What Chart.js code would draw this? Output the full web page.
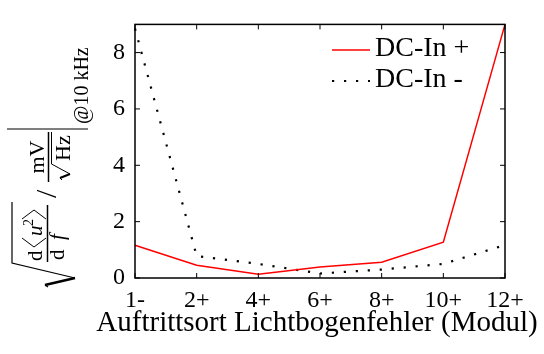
<!DOCTYPE html>
<html>
<head>
<meta charset="utf-8">
<script src="https://cdn.jsdelivr.net/npm/chart.js@4.4.0/dist/chart.umd.min.js"></script>
<style>
html, body { margin: 0; padding: 0; background: #fff; }
</style>
</head>
<body>
<canvas id="chart" width="544" height="354"></canvas>
<script>
// Werte
const categories = ['1-', '2+', '4+', '6+', '8+', '10+', '12+'];
const dcInPlus = [1.16, 0.45, 0.13, 0.39, 0.56, 1.27, 9.0];
const dcInMinus = [8.85, 0.78, 0.5, 0.16, 0.3, 0.5, 1.17];
const yTicks = [0, 2, 4, 6, 8];
const xTitle = 'Auftrittsort Lichtbogenfehler (Modul)';

const SERIF = '"Liberation Serif", "DejaVu Serif", serif';

// Rahmen + nach innen zeigende Ticks auf allen vier Seiten
const frameTicks = {
    id: 'frameTicks',
    afterDatasetsDraw(chart) {
        const { ctx, chartArea: a, scales } = chart;
        const len = 5;
        ctx.save();
        ctx.strokeStyle = '#000';
        ctx.lineWidth = 1;
        ctx.beginPath();
        scales.x.ticks.forEach((t, i) => {
            const px = scales.x.getPixelForTick(i);
            ctx.moveTo(px, a.bottom); ctx.lineTo(px, a.bottom - len);
            ctx.moveTo(px, a.top); ctx.lineTo(px, a.top + len);
        });
        yTicks.forEach(v => {
            const py = scales.y.getPixelForValue(v);
            ctx.moveTo(a.left, py); ctx.lineTo(a.left + len, py);
            ctx.moveTo(a.right, py); ctx.lineTo(a.right - len, py);
        });
        ctx.stroke();
        ctx.lineWidth = 1.5;
        ctx.strokeRect(a.left, a.top, a.right - a.left, a.bottom - a.top);
        ctx.restore();
    }
};

// Legende oben rechts im Plotbereich
const insideLegend = {
    id: 'insideLegend',
    afterDraw(chart) {
        const { ctx } = chart;
        const x0 = 332, x1 = 370, rows = [50, 81];
        ctx.save();
        chart.data.datasets.forEach((ds, i) => {
            const y = rows[i];
            ctx.strokeStyle = ds.borderColor;
            ctx.lineWidth = ds.borderWidth;
            ctx.setLineDash(ds.borderDash || []);
            ctx.beginPath();
            ctx.moveTo(x0, y); ctx.lineTo(x1, y);
            ctx.stroke();
            ctx.setLineDash([]);
            ctx.fillStyle = '#000';
            ctx.font = '28px ' + SERIF;
            ctx.textBaseline = 'alphabetic';
            ctx.textAlign = 'left';
            ctx.fillText(ds.label, 375, y + 6);
        });
        ctx.restore();
    }
};

// x-Achsentitel (selbst gezeichnet, damit er nicht gestaucht wird)
const xTitlePlugin = {
    id: 'xTitlePlugin',
    afterDraw(chart) {
        const { ctx } = chart;
        ctx.save();
        ctx.fillStyle = '#000';
        ctx.font = '29px ' + SERIF;
        ctx.textAlign = 'center';
        ctx.textBaseline = 'alphabetic';
        ctx.fillText(xTitle, 317, 331);
        ctx.restore();
    }
};

// y-Achsenbeschriftung als Formel, um 90° gedreht
const yFormula = {
    id: 'yFormula',
    afterDraw(chart) {
        const { ctx } = chart;
        ctx.save();
        ctx.translate(0, 290);
        ctx.rotate(-Math.PI / 2);
        ctx.fillStyle = '#000';
        ctx.strokeStyle = '#000';
        ctx.textBaseline = 'alphabetic';
        ctx.textAlign = 'left';
        const line = (pts, w) => {
            ctx.lineWidth = w;
            ctx.beginPath();
            ctx.moveTo(pts[0][0], pts[0][1]);
            pts.slice(1).forEach(p => ctx.lineTo(p[0], p[1]));
            ctx.stroke();
        };

        // große Wurzel
        line([[3, 48], [5, 45]], 1.2);
        line([[5, 45], [12, 75]], 2.6);
        line([[12, 75], [27, 12], [88, 12]], 1.2);

        // d<u^2> / df
        ctx.font = '21px ' + SERIF;
        ctx.fillText('d', 29, 42);
        line([[52, 22], [43, 34], [52, 46]], 1);
        ctx.font = 'italic 21px ' + SERIF;
        ctx.fillText('u', 54, 42);
        ctx.font = '14px ' + SERIF;
        ctx.fillText('2', 64, 33);
        line([[71, 22], [80, 34], [71, 46]], 1);
        line([[28, 47.5], [85, 47.5]], 1.5);
        ctx.font = '21px ' + SERIF;
        ctx.fillText('d', 30, 64);
        ctx.font = 'italic 21px ' + SERIF;
        ctx.fillText('f', 50, 64);

        // Schrägstrich
        ctx.font = '30px ' + SERIF;
        ctx.fillText('/', 92, 56);

        // mV / sqrt(Hz)
        ctx.font = '22px ' + SERIF;
        ctx.textAlign = 'center';
        ctx.fillText('mV', 133, 44);
        ctx.textAlign = 'left';
        line([[108, 48.5], [158, 48.5]], 1.5);
        line([[110, 62], [112, 60]], 1);
        line([[112, 60], [116, 70]], 2);
        line([[116, 70], [126, 51.5], [158, 51.5]], 1);
        ctx.fillText('Hz', 129, 70);

        // Auswertungsstrich @10 kHz
        line([[161, 7], [161, 88]], 1.2);
        ctx.font = '20px ' + SERIF;
        ctx.fillText('@10 kHz', 166, 88);
        ctx.restore();
    }
};

Chart.defaults.color = '#000';
Chart.defaults.font.family = SERIF;

new Chart(document.getElementById('chart'), {
    type: 'line',
    data: {
        labels: categories,
        datasets: [
            {
                label: 'DC-In +',
                data: dcInPlus,
                borderColor: '#ff0000',
                borderWidth: 1.5,
                pointRadius: 0,
                tension: 0,
                fill: false,
            },
            {
                label: 'DC-In -',
                data: dcInMinus,
                borderColor: '#000000',
                borderWidth: 2.2,
                borderDash: [2.2, 9.8],
                pointRadius: 0,
                tension: 0,
                fill: false,
            },
        ],
    },
    options: {
        responsive: false,
        animation: false,
        layout: { padding: { top: 16, right: 39, left: 0, bottom: 0 } },
        plugins: {
            legend: { display: false },
            tooltip: { enabled: false },
        },
        scales: {
            x: {
                type: 'category',
                offset: false,
                grid: { display: false, drawTicks: false },
                border: { display: false },
                ticks: { font: { size: 24 }, padding: 8, maxRotation: 0, autoSkip: false },
                title: { display: false, text: xTitle },
                afterFit: (s) => { s.height = 76; },
            },
            y: {
                min: 0,
                max: 9,
                grid: { display: false, drawTicks: false },
                border: { display: false },
                ticks: { font: { size: 24 }, padding: 10 },
                afterBuildTicks: (s) => { s.ticks = yTicks.map(v => ({ value: v })); },
                afterFit: (s) => { s.width = 135; },
            },
        },
    },
    plugins: [frameTicks, insideLegend, xTitlePlugin, yFormula],
});
</script>
</body>
</html>
